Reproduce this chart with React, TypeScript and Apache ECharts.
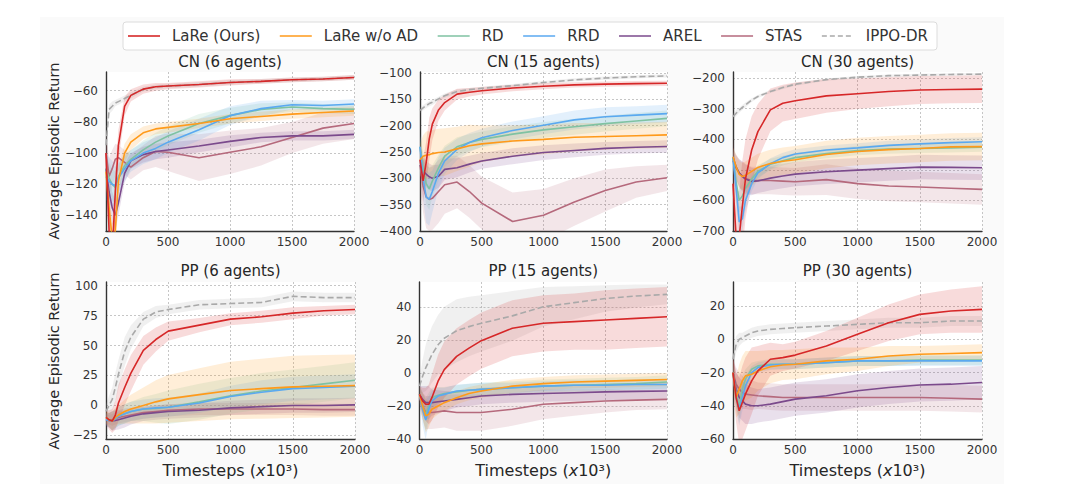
import React, { useEffect, useRef } from "react";
import * as echarts from "echarts";

// Timesteps (x10^3) at which values were read
const T = [0, 25, 50, 75, 100, 150, 200, 300, 400, 500, 750, 1000, 1250, 1500, 1750, 2000];
const METHODS = ["LaRe (Ours)", "LaRe w/o AD", "RD", "RRD", "AREL", "STAS", "IPPO-DR"];
const COLORS = ["#d62728", "#ff9a1a", "#7fc2a2", "#5aa9f0", "#7b4a8c", "#b5697c", "#a9a9a9"];
const X_TICKS = [0, 500, 1000, 1500, 2000];

// Panel: CN (6 agents)
const CN6_MEAN = [
  [-100, -150, -165, -125, -95, -70, -63, -59, -57.5, -57, -56, -54.7, -54, -53, -52.5, -51.5],
  [-112, -135, -155, -150, -118, -100, -93, -87, -84.5, -83.5, -81, -78, -76.5, -75, -74, -73],
  [-110, -116, -120, -122, -115, -108, -104, -98, -93, -89, -81, -76, -72, -70.5, -71.5, -72],
  [-115, -118, -120, -121, -116, -110, -105, -100, -97, -93, -85, -76, -71.5, -69, -69.5, -68.5],
  [-110, -125, -135, -140, -132, -113, -105, -101, -99, -98, -95.5, -92.5, -90, -89, -89, -88],
  [-100, -115, -110, -104, -103, -106, -109, -103, -99, -99.5, -103, -99.5, -96, -90, -84, -81],
  [-95, -72, -70, -68, -67, -65, -63, -59, -57.5, -57, -56, -54.7, -54, -53, -52.5, -51.5],
];
const CN6_SPREAD = [
  [10, 15, 15, 15, 10, 6, 4, 3, 2.5, 2, 2, 2, 1.5, 1.5, 1.5, 1.5],
  [10, 10, 10, 10, 8, 6, 5, 4, 3.5, 3.5, 3, 3, 3, 3, 3, 3],
  [10, 10, 10, 10, 8, 7, 6, 6, 6, 6, 6, 5, 4, 3, 3, 3],
  [15, 15, 15, 12, 10, 8, 7, 7, 7, 7, 7, 6, 5, 3, 3, 3],
  [10, 10, 10, 10, 8, 6, 5, 5, 5, 5, 4, 4, 3, 3, 3, 3],
  [12, 12, 12, 10, 8, 8, 8, 8, 10, 12, 15, 14, 12, 10, 10, 10],
  [4, 3, 3, 2, 2, 2, 2, 1.5, 1.5, 1.5, 1.5, 1.5, 1.5, 1.5, 1.5, 1.5],
];

// Panel: CN (15 agents)
const CN15_MEAN = [
  [-265, -305, -270, -225, -197, -170, -156, -140, -136.5, -133.5, -128.5, -125, -122.5, -121, -120, -119.5],
  [-265, -258, -256, -255, -253, -251, -250, -244, -238, -234.5, -229, -226, -222, -220.5, -219, -217.5],
  [-240, -280, -310, -320, -305, -280, -258, -240, -232, -226, -216, -208, -202, -196, -191, -186],
  [-240, -300, -335, -340, -325, -290, -267, -245, -232, -223, -209, -199, -189, -183, -180, -177],
  [-275, -285, -292, -297, -300, -296, -283, -280, -273, -267, -258, -251, -247, -243, -241, -239.5],
  [-275, -315, -335, -340, -338, -325, -312, -307, -325, -347, -382, -370, -345, -323, -307, -299],
  [-171, -166, -162, -158, -155.5, -149, -143, -135, -131.5, -129, -124, -118, -113, -109.5, -107, -105.5],
];
const CN15_SPREAD = [
  [30, 40, 40, 40, 30, 20, 15, 10, 8, 7, 6, 6, 5, 5, 5, 5],
  [30, 40, 45, 45, 45, 45, 45, 42, 40, 35, 30, 28, 27, 25, 25, 25],
  [20, 30, 40, 40, 30, 25, 20, 18, 16, 15, 15, 15, 15, 15, 15, 15],
  [25, 40, 50, 50, 40, 30, 25, 20, 18, 17, 17, 17, 18, 18, 17, 17],
  [20, 25, 25, 25, 25, 22, 20, 18, 16, 15, 15, 14, 13, 12, 12, 12],
  [40, 50, 60, 60, 60, 60, 55, 50, 50, 50, 55, 50, 45, 40, 30, 25],
  [5, 5, 5, 5, 5, 4, 4, 4, 3, 3, 3, 3, 3, 3, 3, 3],
];

// Panel: CN (30 agents)
const CN30_MEAN = [
  [-545, -720, -720, -620, -530, -435, -375, -304, -282, -274, -258, -251, -244, -239, -237, -236],
  [-457, -490, -515, -522, -518, -505, -492, -479, -472, -467, -450, -440, -434, -430, -425, -424],
  [-460, -540, -600, -585, -560, -530, -505, -482, -470, -460, -447, -437, -432, -430, -428, -426],
  [-460, -560, -670, -660, -600, -545, -510, -480, -460, -448, -435, -428, -420, -415, -411, -408],
  [-460, -490, -510, -522, -530, -538, -536, -527, -520, -514, -506, -501, -496, -491, -492, -493],
  [-470, -495, -510, -520, -528, -535, -535, -535, -537, -539, -532, -545, -553, -556, -560, -564],
  [-326, -315, -305, -296, -288, -272, -260, -244, -231, -220, -205, -197, -192, -190, -188, -187],
];
const CN30_SPREAD = [
  [150, 150, 150, 150, 130, 110, 90, 70, 60, 60, 55, 50, 48, 46, 45, 45],
  [30, 40, 45, 45, 45, 45, 45, 45, 45, 45, 45, 45, 45, 45, 45, 45],
  [30, 40, 40, 40, 35, 25, 20, 18, 16, 15, 15, 15, 15, 15, 15, 15],
  [40, 50, 50, 40, 35, 25, 20, 18, 16, 15, 15, 15, 15, 15, 15, 15],
  [30, 40, 45, 50, 50, 45, 40, 40, 40, 40, 40, 40, 40, 40, 40, 40],
  [30, 40, 45, 45, 45, 45, 45, 45, 45, 45, 50, 50, 50, 50, 50, 50],
  [10, 10, 8, 8, 8, 6, 5, 5, 5, 5, 4, 4, 4, 4, 4, 4],
];

// Panel: PP (6 agents)
const PP6_MEAN = [
  [-10, -12, -13, -8, 2, 15, 27, 46, 55, 62, 67, 72, 74, 77, 79, 80],
  [-10, -12, -13, -10, -8, -5, -3, 0, 3, 5.5, 9, 12.5, 14, 15.5, 16, 16.5],
  [-11, -12, -13, -11, -9, -7, -5, -3, -2.5, -1.5, 3, 8, 12, 15, 18, 21],
  [-12, -12.5, -13, -11, -9, -7, -5, -3, -2, -1.5, 2, 7.5, 11, 14, 15, 16],
  [-12, -12.5, -13, -12.5, -12, -10.5, -9, -7, -6, -5, -4, -2, -1, 0, 0, 0.5],
  [-12, -12, -12, -11, -10, -9, -8, -6, -5, -4, -3, -3, -3, -3, -3.5, -3.5],
  [-5, 0, 5, 15, 26, 45, 57, 72, 78, 80, 84, 85, 86, 91, 90, 90],
];
const PP6_SPREAD = [
  [6, 8, 10, 12, 15, 15, 15, 12, 10, 8, 6, 5, 5, 5, 4, 4],
  [5, 6, 8, 8, 8, 10, 12, 15, 18, 20, 22, 24, 25, 26, 26, 26],
  [5, 6, 8, 8, 8, 8, 8, 10, 12, 14, 15, 15, 15, 15, 15, 15],
  [5, 6, 8, 8, 8, 8, 8, 8, 8, 8, 8, 9, 10, 10, 10, 10],
  [5, 6, 8, 8, 8, 8, 7, 6, 6, 6, 6, 6, 6, 6, 6, 6],
  [4, 4, 5, 5, 5, 5, 5, 5, 5, 5, 5, 5, 5, 5, 5, 5],
  [6, 8, 10, 12, 12, 12, 10, 6, 5, 4, 4, 4, 4, 4, 4, 4],
];

// Panel: PP (15 agents)
const PP15_MEAN = [
  [-13, -17, -19, -19, -15, -5, 2, 10, 15, 19.5, 27, 30, 31, 32, 33, 34],
  [-13, -20, -26, -25, -22, -20, -18, -15, -12.5, -11, -8, -6.5, -5.5, -5, -4.5, -4],
  [-13, -20, -25, -20, -15, -13.5, -12.5, -11.5, -10.5, -10, -9, -8, -7.5, -7, -6.5, -5.5],
  [-13, -22, -28.5, -22, -17, -14, -13, -11, -10.5, -10, -9, -8, -7.5, -7.5, -7, -7],
  [-13, -16, -18, -18, -18, -17.5, -17, -16, -15, -14, -13, -12.5, -12, -11.5, -11.2, -11],
  [-15, -20, -24, -24, -24, -23.5, -23, -24, -24, -24, -22, -19, -18, -17, -16.5, -16],
  [-8, -2, 3, 7, 11, 17, 21, 25.5, 28, 30, 34.5, 40, 42.5, 45, 46.5, 47.5],
];
const PP15_SPREAD = [
  [5, 8, 10, 12, 14, 16, 17, 17, 17, 17, 17, 17, 17, 18, 18, 18],
  [5, 8, 10, 8, 6, 5, 5, 4, 4, 4, 4, 4, 4, 4, 4, 4],
  [5, 8, 10, 8, 6, 5, 4, 4, 4, 4, 4, 4, 4, 4, 4, 4],
  [6, 10, 12, 8, 6, 5, 4, 4, 4, 4, 3, 3, 3, 3, 3, 3],
  [5, 8, 10, 10, 8, 7, 6, 5, 5, 5, 5, 5, 5, 5, 5, 5],
  [5, 8, 10, 10, 10, 10, 10, 11, 11, 11, 10, 9, 8, 7, 6, 6],
  [5, 10, 14, 16, 17, 18, 19, 19, 18, 17, 15, 12, 10, 8, 7, 6],
];

// Panel: PP (30 agents)
const PP30_MEAN = [
  [-20, -35, -43, -38, -33, -25, -19, -12, -11, -9.5, -4, 3, 10, 15, 17, 18],
  [-20, -35, -30, -25, -22, -21, -19, -16.5, -15.5, -15, -13, -12, -10, -9, -8.5, -8],
  [-20, -33, -40, -30, -24, -18, -16, -15, -15, -15, -14, -13, -13, -12.5, -12.5, -12.5],
  [-20, -35, -42, -35, -28, -20, -17, -15.5, -15, -15, -14, -13, -13, -13, -13, -13],
  [-20, -30, -35, -37, -39, -40, -40, -39, -37.5, -36, -34, -31, -29, -27.5, -27, -26],
  [-20, -27, -30, -32, -33, -33.5, -34, -34.5, -35, -35, -35, -35, -35, -35, -35.5, -36],
  [-12, -3, 0, 1, 2, 4, 5, 6, 6.5, 7, 8, 9, 10, 10, 11, 11],
];
const PP30_SPREAD = [
  [10, 15, 20, 22, 22, 20, 15, 10, 8, 8, 9, 10, 11, 12, 13, 14],
  [8, 12, 15, 15, 15, 14, 12, 10, 9, 9, 8, 7, 6, 5, 5, 5],
  [5, 8, 10, 8, 6, 4, 3, 3, 3, 3, 3, 3, 3, 3, 3, 3],
  [5, 8, 10, 8, 6, 4, 3, 3, 3, 3, 3, 3, 3, 3, 3, 3],
  [8, 10, 12, 12, 12, 11, 10, 10, 10, 10, 10, 10, 10, 10, 10, 10],
  [8, 10, 10, 10, 9, 9, 8, 8, 8, 8, 8, 8, 8, 8, 8, 8],
  [6, 5, 4, 3, 3, 3, 3, 3, 3, 3, 3, 3, 3, 3, 3, 3],
];

const TITLES = ["CN (6 agents)", "CN (15 agents)", "CN (30 agents)", "PP (6 agents)", "PP (15 agents)", "PP (30 agents)"];
const Y_TICKS = [
  [-140, -120, -100, -80, -60],
  [-400, -350, -300, -250, -200, -150, -100],
  [-700, -600, -500, -400, -300, -200],
  [-25, 0, 25, 50, 75, 100],
  [-40, -20, 0, 20, 40],
  [-60, -40, -20, 0, 20],
];
const Y_RANGE = [
  [-150, -48],
  [-400, -98],
  [-700, -180],
  [-28, 103],
  [-40, 55],
  [-60, 34.5],
];
const MEANS = [CN6_MEAN, CN15_MEAN, CN30_MEAN, PP6_MEAN, PP15_MEAN, PP30_MEAN];
const SPREADS = [CN6_SPREAD, CN15_SPREAD, CN30_SPREAD, PP6_SPREAD, PP15_SPREAD, PP30_SPREAD];

// layout
const GRIDS = [
  { left: 106, top: 72, width: 248, height: 159 },
  { left: 420, top: 72, width: 247, height: 159 },
  { left: 733, top: 72, width: 249, height: 159 },
  { left: 106, top: 282, width: 249, height: 157 },
  { left: 419.5, top: 282, width: 247.5, height: 157 },
  { left: 733, top: 282, width: 249, height: 157 },
];
const FONT = '"DejaVu Sans", "Noto Sans", sans-serif';
const DRAW_ORDER = [6, 5, 4, 2, 3, 1, 0];

const minus = (v: number) => String(v).replace("-", "\u2212");

function measure(text: string, size: number): number {
  const c = document.createElement("canvas").getContext("2d");
  if (!c) return text.length * size * 0.6;
  c.font = `${size}px "DejaVu Sans"`;
  return c.measureText(text).width;
}

function buildOption() {
  const grid = GRIDS.map((g) => ({ ...g, show: true, backgroundColor: "#ffffff", borderWidth: 0 }));
  const xAxis = GRIDS.map((_, i) => ({
    type: "value",
    gridIndex: i,
    min: 0,
    max: 2000,
    axisLine: { show: true, onZero: false, lineStyle: { color: "#333333", width: 1.4 } },
    axisTick: { show: false, customValues: X_TICKS },
    axisLabel: {
      color: "#333333",
      fontSize: 12,
      fontFamily: FONT,
      margin: 5,
      customValues: X_TICKS,
      formatter: (v: number) => String(v),
    },
    splitLine: { show: true, lineStyle: { color: "#b8b8b8", width: 0.8, type: [2, 2] } },
  }));
  const yAxis = GRIDS.map((_, i) => ({
    type: "value",
    gridIndex: i,
    min: Y_RANGE[i][0],
    max: Y_RANGE[i][1],
    axisLine: { show: true, onZero: false, lineStyle: { color: "#333333", width: 1.4 } },
    axisTick: { show: false, customValues: Y_TICKS[i] },
    axisLabel: {
      color: "#333333",
      fontSize: 12,
      fontFamily: FONT,
      margin: 8,
      customValues: Y_TICKS[i],
      formatter: (v: number) => minus(v),
    },
    splitLine: { show: true, lineStyle: { color: "#b8b8b8", width: 0.8, type: [2, 2] } },
  }));

  const series: any[] = [];
  for (let g = 0; g < 6; g++) {
    const mean = MEANS[g];
    const sd = SPREADS[g];
    for (const m of DRAW_ORDER) {
      series.push({
        type: "custom",
        name: METHODS[m] + " band",
        xAxisIndex: g,
        yAxisIndex: g,
        silent: true,
        z: 1,
        data: [0],
        renderItem: (params: any, api: any) => {
          const up = T.map((t, i) => api.coord([t, mean[m][i] + sd[m][i]]));
          const lo = T.map((t, i) => api.coord([t, mean[m][i] - sd[m][i]])).reverse();
          const cs = params.coordSys;
          return {
            type: "polygon",
            shape: { points: up.concat(lo) },
            style: { fill: COLORS[m], opacity: 0.17 },
            clipPath: { type: "rect", shape: { x: cs.x, y: cs.y, width: cs.width, height: cs.height } },
          };
        },
      });
    }
    for (const m of DRAW_ORDER) {
      series.push({
        type: "line",
        name: METHODS[m],
        xAxisIndex: g,
        yAxisIndex: g,
        data: T.map((t, i) => [t, mean[m][i]]),
        symbol: "none",
        showSymbol: false,
        clip: true,
        z: 3,
        silent: true,
        lineStyle: { color: COLORS[m], width: 1.6, type: m === 6 ? [6, 3] : "solid" },
        itemStyle: { color: COLORS[m] },
      });
    }
  }

  const graphic: any[] = [];
  graphic.push({ type: "rect", z: -10, shape: { x: 40, y: 17, width: 964, height: 467 }, style: { fill: "#fafafa" }, silent: true });
  // legend
  graphic.push({
    type: "rect",
    z: 10,
    shape: { x: 123, y: 22, width: 814, height: 28, r: 3 },
    style: { fill: "#ffffff", stroke: "#dcdcdc", lineWidth: 1 },
    silent: true,
  });
  let lx = 128;
  METHODS.forEach((name, m) => {
    graphic.push({
      type: "line",
      z: 11,
      shape: { x1: lx, y1: 36, x2: lx + 32, y2: 36 },
      style: { stroke: COLORS[m], lineWidth: 1.6, lineDash: m === 6 ? [5, 3] : null },
      silent: true,
    });
    graphic.push({
      type: "text",
      z: 11,
      x: lx + 44,
      y: 36,
      style: { text: name, fontSize: 15, fontFamily: FONT, fill: "#333333", align: "left", verticalAlign: "middle" },
      silent: true,
    });
    lx = lx + 44 + measure(name, 15) + 19.5;
  });
  // titles
  GRIDS.forEach((g, i) => {
    graphic.push({
      type: "text",
      x: g.left + g.width / 2,
      y: i < 3 ? 62 : 271,
      style: { text: TITLES[i], fontSize: 15, fontFamily: FONT, fill: "#262626", align: "center", verticalAlign: "middle" },
      silent: true,
    });
    if (i >= 3) {
      graphic.push({
        type: "text",
        x: g.left + g.width / 2,
        y: 470,
        style: {
          text: "{a|Timesteps (}{i|x}{a|10³)}",
          align: "center",
          verticalAlign: "middle",
          rich: {
            a: { fontSize: 16, fontFamily: FONT, fill: "#262626" },
            i: { fontSize: 16, fontFamily: FONT, fontStyle: "italic", fill: "#262626" },
          },
        },
        silent: true,
      });
    }
  });
  [151, 361].forEach((cy) => {
    graphic.push({
      type: "text",
      x: 54,
      y: cy,
      rotation: Math.PI / 2,
      style: {
        text: "Average Episodic Return",
        fontSize: 14.5,
        fontFamily: FONT,
        fill: "#262626",
        align: "center",
        verticalAlign: "middle",
      },
      silent: true,
    });
  });

  return {
    animation: false,
    backgroundColor: "#ffffff",
    textStyle: { fontFamily: FONT },
    grid,
    xAxis,
    yAxis,
    series,
    graphic,
  };
}

export default function App() {
  const ref = useRef<HTMLDivElement>(null);
  useEffect(() => {
    if (!ref.current) return;
    const chart = echarts.init(ref.current, undefined, { renderer: "svg" });
    chart.setOption(buildOption() as any);
    return () => chart.dispose();
  }, []);
  return <div ref={ref} style={{ position: "fixed", left: 0, top: 0, width: 1080, height: 484 }} />;
}
